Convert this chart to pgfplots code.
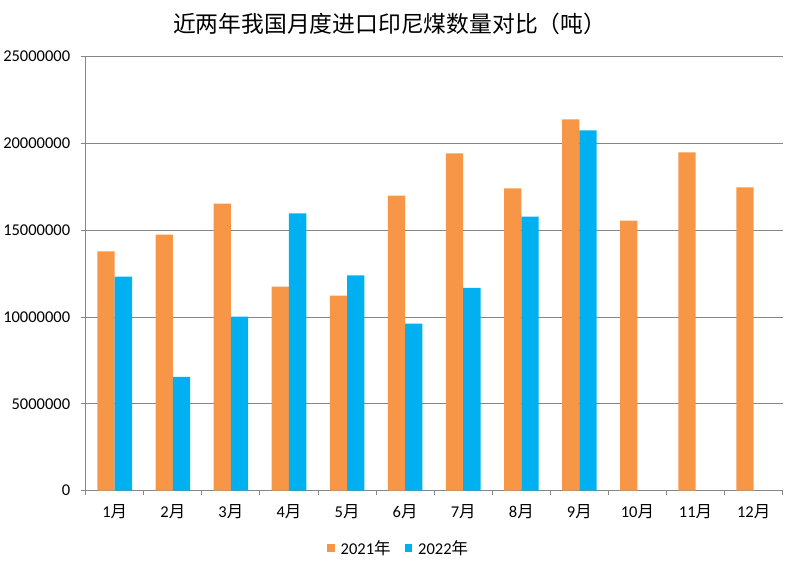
\documentclass[border=0pt]{standalone}
\usepackage{pgfplots}
\pgfplotsset{compat=1.18}
\usepackage{fontspec}
\setmainfont{Carlito}
\newfontfamily\cjk{Noto Sans CJK SC}
\definecolor{c21}{HTML}{F79646}
\definecolor{c22}{HTML}{00B0F0}
\definecolor{gridc}{HTML}{868686}
\newcommand\yue{{\cjk 月}}
\newcommand\nian{{\cjk 年}}
\begin{document}
\begin{tikzpicture}
\useasboundingbox (0,0) rectangle (790pt,561pt);
\node[font=\cjk\fontsize{22.8}{26}\selectfont] at (389.7pt,537pt) {近两年我国月度进口印尼煤数量对比（吨）};
\begin{axis}[
 at={(85.7pt,70.3pt)}, anchor=south west,
 scale only axis, width=697pt, height=434pt,
 ybar=0pt, bar width=17.3pt,
 xmin=0.5, xmax=12.5, ymin=0, ymax=25000000,
 enlargelimits=false,
 axis x line*=bottom, axis y line*=left,
 axis line style={gridc, line width=1pt, -},
 ytick={0,5000000,10000000,15000000,20000000,25000000},
 ymajorgrids, grid style={gridc, line width=1pt},
 scaled y ticks=false,
 /pgf/number format/assume math mode=true,
 yticklabel style={/pgf/number format/fixed, /pgf/number format/1000 sep={}, font=\fontsize{16.5}{19}\selectfont, xshift=-7pt},
 xtick={1,2,3,4,5,6,7,8,9,10,11,12},
 xticklabels={1\yue,2\yue,3\yue,4\yue,5\yue,6\yue,7\yue,8\yue,9\yue,10\yue,11\yue,12\yue},
 xticklabel style={font=\fontsize{16.5}{19}\selectfont, yshift=-5pt},
 tick align=outside, major tick length=5pt, minor tick length=4pt,
 tick style={gridc, line width=1pt},
 major x tick style={draw=none},
 minor xtick={0.5,1.5,...,12.5},
 legend style={at={(0.449,-0.132)}, anchor=center, draw=none, legend columns=2,
   font=\fontsize{16.5}{19}\selectfont,
   /tikz/every odd column/.append style={column sep=4pt},
   /tikz/every even column/.append style={column sep=12pt}},
 legend image code/.code={\fill[#1] (0pt,-4pt) rectangle (7.5pt,4pt);},
]
\addplot[fill=c21, draw=none] coordinates {
 (1,13780000) (2,14750000) (3,16540000) (4,11750000) (5,11230000) (6,17000000)
 (7,19430000) (8,17410000) (9,21390000) (10,15560000) (11,19490000) (12,17470000)};
\addlegendentry{2021\nian}
\addplot[fill=c22, draw=none] coordinates {
 (1,12330000) (2,6560000) (3,10020000) (4,15970000) (5,12400000) (6,9620000)
 (7,11690000) (8,15790000) (9,20760000)};
\addlegendentry{2022\nian}
\end{axis}
\end{tikzpicture}
\end{document}
